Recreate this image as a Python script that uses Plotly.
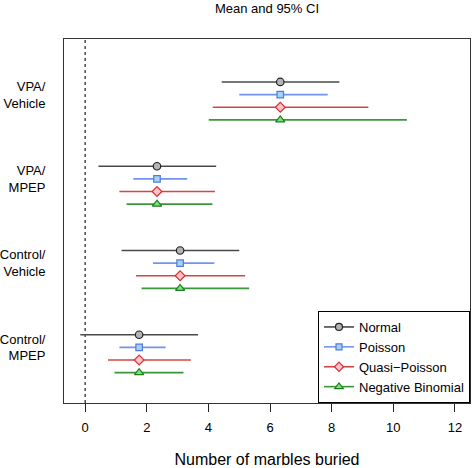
import plotly.graph_objects as go

# ---- data ----
groups = ["Control/<br>MPEP", "Control/<br>Vehicle", "VPA/<br>MPEP", "VPA/<br>Vehicle"]
group_pos = [1, 2, 3, 4]
means = [1.75, 3.08, 2.33, 6.33]

normal_lo = [-0.16, 1.18, 0.43, 4.43]
normal_hi = [3.66, 5.00, 4.25, 8.25]
poisson_lo = [1.11, 2.20, 1.56, 5.00]
poisson_hi = [2.61, 4.19, 3.31, 7.87]
quasi_lo = [0.74, 1.65, 1.11, 4.14]
quasi_hi = [3.43, 5.19, 4.21, 9.19]
nb_lo = [0.95, 1.83, 1.34, 4.01]
nb_hi = [3.19, 5.32, 4.13, 10.44]

x_ticks = [0, 2, 4, 6, 8, 10, 12]

series = [
    ("Normal", normal_lo, normal_hi),
    ("Poisson", poisson_lo, poisson_hi),
    ("Quasi\u2212Poisson", quasi_lo, quasi_hi),
    ("Negative Binomial", nb_lo, nb_hi),
]

# ---- styles ----
styles = {
    "Normal": dict(offset=0.15, line="#4a4a4a", fill="#b4b4b4", edge="#222222", symbol="circle", size=7.5),
    "Poisson": dict(offset=0.0, line="#7094f0", fill="#a6d3f2", edge="#4f7ae0", symbol="square", size=6.5),
    "Quasi\u2212Poisson": dict(offset=-0.15, line="#d64545", fill="#ffc2cc", edge="#d63030", symbol="diamond", size=7.5),
    "Negative Binomial": dict(offset=-0.30, line="#3a963a", fill="#7ee07e", edge="#1f7f1f", symbol="triangle-up", size=8),
}

fig = go.Figure()

for name, lo, hi in series:
    st = styles[name]
    ys = [g + st["offset"] for g in group_pos]
    fig.add_trace(go.Scatter(
        x=means, y=ys, mode="markers", name=name, showlegend=False,
        marker=dict(symbol=st["symbol"], size=st["size"], color=st["fill"],
                    line=dict(color=st["edge"], width=1.2)),
        error_x=dict(type="data", symmetric=False,
                     array=[h - m for h, m in zip(hi, means)],
                     arrayminus=[m - l for m, l in zip(means, lo)],
                     color=st["line"], thickness=1.6, width=0),
    ))
    # legend proxy
    fig.add_trace(go.Scatter(
        x=[None], y=[None], mode="lines+markers", name=name,
        line=dict(color=st["line"], width=1.6),
        marker=dict(symbol=st["symbol"], size=st["size"] - 0.5, color=st["fill"],
                    line=dict(color=st["edge"], width=1.2)),
    ))

fig.add_shape(type="line", xref="x", yref="paper", x0=0, x1=0, y0=0, y1=1,
              line=dict(color="#555555", width=1.6, dash="3px,3px"), layer="below")

fig.update_layout(
    width=472, height=468,
    margin=dict(l=64, r=2, t=39, b=65),
    paper_bgcolor="white", plot_bgcolor="white",
    font=dict(family="Liberation Sans, Arial, sans-serif", size=13, color="#000000"),
    title=dict(text="Mean and 95% CI", x=0.5, xref="paper", xanchor="center",
               y=1 - 8 / 468, yref="container", yanchor="middle",
               font=dict(size=13)),
    showlegend=True,
    legend=dict(x=1, y=0, xanchor="right", yanchor="bottom",
                bordercolor="#000000", borderwidth=1, bgcolor="white",
                font=dict(size=13), tracegroupgap=0, itemwidth=30),
    xaxis=dict(range=[-0.688, 12.488], tickvals=x_ticks, ticks="outside", ticklen=8,
               tickcolor="#222222", showgrid=False, zeroline=False,
               showline=True, linecolor="#333333", linewidth=1, mirror=True,
               ticklabelstandoff=4,
               title=dict(text="Number of marbles buried", standoff=21),
               automargin=False),
    yaxis=dict(range=[0.34, 4.66], tickvals=group_pos, ticktext=groups, ticks="",
               showgrid=False, zeroline=False, showline=True, linecolor="#333333",
               linewidth=1, mirror=True, ticklabelstandoff=15, automargin=False),
)

fig.write_html("out.html", config={"displayModeBar": False},
               post_script="document.body.style.margin='0px';")
